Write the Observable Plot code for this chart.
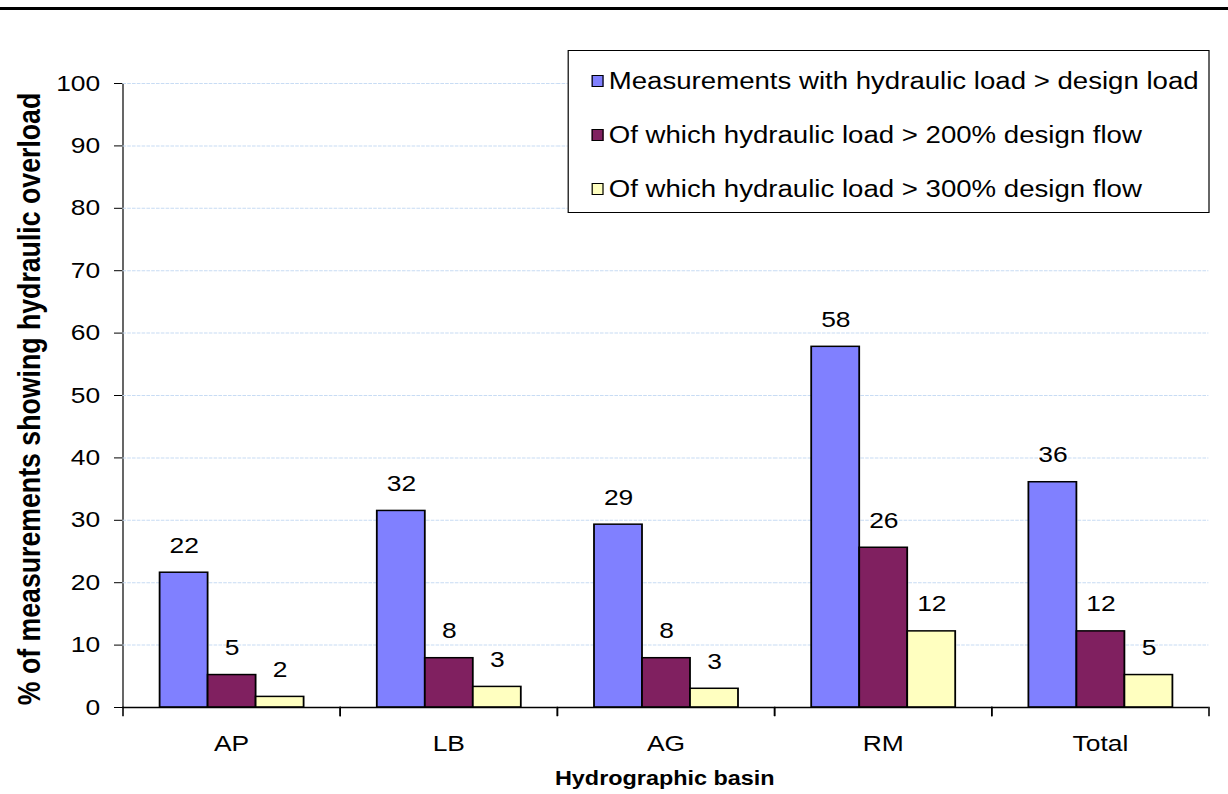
<!DOCTYPE html>
<html><head><meta charset="utf-8">
<script src="https://cdn.jsdelivr.net/npm/d3@7"></script>
<script src="https://cdn.jsdelivr.net/npm/@observablehq/plot@0.6"></script>
<style>
body{margin:0;background:#fff;font-family:"Liberation Sans",Arial,sans-serif;overflow:hidden;}
#page{position:relative;width:1228px;height:794px;overflow:hidden;}
#topline{position:absolute;left:0;top:7px;width:1228px;height:3px;background:#000;}
#wrap{position:absolute;left:0;top:0;width:1023.33px;height:794px;transform:scaleX(1.2);transform-origin:0 0;}
#chart{position:absolute;left:0;top:0;}
#legend{position:absolute;left:473.3px;top:50px;width:535px;height:163px;border:1.5px solid #000;box-sizing:border-box;background:#fff;}
.item{position:absolute;left:19px;height:26px;display:flex;align-items:center;font-size:23px;white-space:nowrap;}
.sw{width:8px;height:10px;border:1.5px solid #000;margin-right:4px;flex:none;}
#ytitle{position:absolute;left:25px;top:399px;transform:translate(-50%,-50%) rotate(-90deg);font-weight:bold;font-size:26.7px;white-space:nowrap;}
#xtitle{position:absolute;left:554px;top:778px;transform:translate(-50%,-50%);font-weight:bold;font-size:19.5px;white-space:nowrap;}
</style></head><body>
<div id="page"><div id="topline"></div>
<div id="wrap"><div id="chart"></div><div id="legend"></div>
<div id="ytitle">% of measurements showing hydraulic overload</div>
<div id="xtitle">Hydrographic basin</div></div></div>
<script>
const basins = ["AP", "LB", "AG", "RM", "Total"];
const seriesNames = [
  "Measurements with hydraulic load > design load",
  "Of which hydraulic load > 200% design flow",
  "Of which hydraulic load > 300% design flow"
];
const overDesign = [21.6, 31.5, 29.3, 57.8, 36.1];
const over200 = [5.2, 7.9, 7.9, 25.6, 12.2];
const over300 = [1.7, 3.3, 3.0, 12.2, 5.2];
const seriesColors = ["#8080ff", "#802060", "#ffffc0"];
const yTicks = [0, 10, 20, 30, 40, 50, 60, 70, 80, 90, 100];

const rows = [];
[overDesign, over200, over300].forEach((vals, s) =>
  vals.forEach((v, i) => rows.push({basin: basins[i], series: seriesNames[s], value: v, label: String(Math.round(v))})));

const chart = Plot.plot({
  width: 1023, height: 794,
  marginLeft: 100, marginRight: 15, marginTop: 83, marginBottom: 87,
  style: {fontFamily: "'Liberation Sans', Arial, sans-serif", fontSize: "22px", color: "#000", background: "transparent", overflow: "visible"},
  fx: {domain: basins, padding: 0, label: null, tickSize: 0, tickPadding: 28, axis: "bottom"},
  x: {domain: seriesNames, paddingInner: 0, paddingOuter: 0.75, axis: null},
  y: {domain: [0, 100], ticks: yTicks, tickSize: 7, tickPadding: 12, label: null, line: true},
  color: {domain: seriesNames, range: seriesColors},
  marks: [
    Plot.ruleY(yTicks.filter(d => d > 0), {stroke: "#c8dcf4", strokeDasharray: "3,1"}),
    Plot.barY(rows, {fx: "basin", x: "series", y: "value", fill: "series", stroke: "#000", strokeWidth: 1.5}),
    Plot.text(rows, {fx: "basin", x: "series", y: "value", text: "label", dy: -27, fontSize: 22, fill: "#000"}),
    Plot.ruleY([0], {stroke: "#000", strokeWidth: 1.5}),
    Plot.frame({anchor: "left", insetTop: 624, insetBottom: -8, stroke: "#000", strokeWidth: 1.3}),
    Plot.frame({anchor: "right", insetTop: 624, insetBottom: -8, stroke: "#000", strokeWidth: 1.3})
  ]
});
document.getElementById("chart").appendChild(chart);

const legend = document.getElementById("legend");
const legendTops = [17, 71, 125];
seriesNames.forEach((name, i) => {
  const item = document.createElement("div");
  item.className = "item";
  item.style.top = legendTops[i] + "px";
  const sw = document.createElement("div");
  sw.className = "sw";
  sw.style.background = seriesColors[i];
  item.appendChild(sw);
  const t = document.createElement("span");
  t.textContent = name;
  item.appendChild(t);
  legend.appendChild(item);
});
</script>
</body></html>
